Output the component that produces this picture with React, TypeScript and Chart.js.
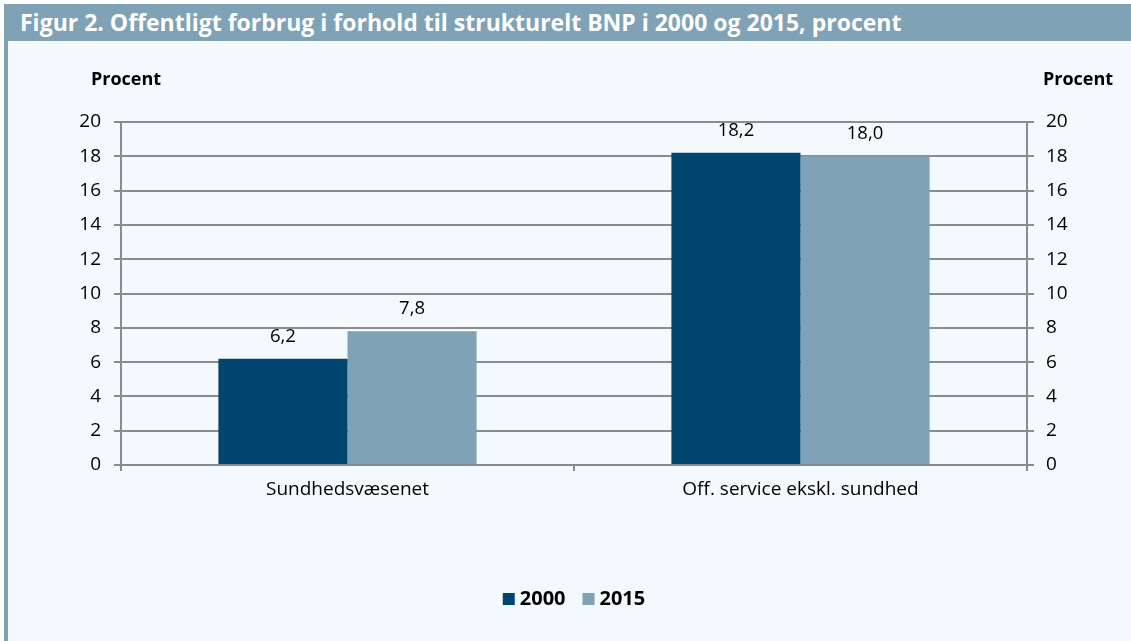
import React, { useEffect, useRef } from "react";
import { Chart, registerables } from "chart.js";

Chart.register(...registerables);

const titleText = "Figur 2. Offentligt forbrug i forhold til strukturelt BNP i 2000 og 2015, procent";
const categories = ["Sundhedsvæsenet", "Off. service ekskl. sundhed"];
const seriesLabels = ["2000", "2015"];
const values2000 = [6.2, 18.2];
const values2015 = [7.8, 18.0];
const yMin = 0;
const yMax = 20;
const yStep = 2;
const axisTitle = "Procent";

const DARK = "#00466e";
const LIGHT = "#7fa2b6";
const GRID = "#8c8c8c";
const BG = "#f4f9fd";
const FONT = "'Open Sans', 'Noto Sans', sans-serif";

const overlayPlugin = {
  id: "overlay",
  afterDatasetsDraw(chart: any) {
    const ctx = chart.ctx;
    ctx.save();
    ctx.fillStyle = "#000";
    ctx.font = `18.5px ${FONT}`;
    ctx.textAlign = "center";
    ctx.textBaseline = "alphabetic";
    chart.data.datasets.forEach((ds: any, i: number) => {
      const meta = chart.getDatasetMeta(i);
      meta.data.forEach((el: any, j: number) => {
        const v = ds.data[j];
        ctx.fillText(v.toFixed(1).replace(".", ","), el.x, el.y - 17);
      });
    });
    // axis titles
    ctx.font = `bold 18px ${FONT}`;
    const area = chart.chartArea;
    ctx.textAlign = "center";
    ctx.fillText(axisTitle, 126, 85);
    ctx.fillText(axisTitle, 1078, 85);
    // legend
    ctx.font = `bold 20px ${FONT}`;
    ctx.textAlign = "left";
    const box = 12;
    const gapBoxText = 5;
    const gapItems = 17;
    const widths = seriesLabels.map((l) => ctx.measureText(l).width);
    const total = widths.reduce((a, w) => a + box + gapBoxText + w, 0) + gapItems * (seriesLabels.length - 1);
    let x = (area.left + area.right) / 2 - total / 2;
    const yBase = 605;
    seriesLabels.forEach((l, i) => {
      ctx.fillStyle = chart.data.datasets[i].backgroundColor;
      ctx.fillRect(x, yBase - box, box, box);
      x += box + gapBoxText;
      ctx.fillStyle = "#000";
      ctx.fillText(l, x, yBase);
      x += widths[i] + gapItems;
    });
    ctx.restore();
  },
};

export default function App() {
  const canvasRef = useRef<HTMLCanvasElement | null>(null);

  useEffect(() => {
    document.body.style.margin = "0";
    const canvas = canvasRef.current;
    if (!canvas) return;
    const chart = new Chart(canvas, {
      type: "bar",
      data: {
        labels: categories,
        datasets: [
          { label: seriesLabels[0], data: values2000, backgroundColor: DARK, borderWidth: 0, yAxisID: "y" },
          { label: seriesLabels[1], data: values2015, backgroundColor: LIGHT, borderWidth: 0, yAxisID: "y" },
        ],
      },
      options: {
        responsive: false,
        animation: false,
        maintainAspectRatio: false,
        datasets: { bar: { categoryPercentage: 0.57, barPercentage: 1.0 } },
        layout: { padding: { top: 122, left: 0, right: 0, bottom: 116 } },
        plugins: { legend: { display: false }, tooltip: { enabled: false }, title: { display: false } },
        scales: {
          x: {
            type: "category",
            offset: true,
            grid: { offset: true, drawOnChartArea: false, drawTicks: true, tickLength: 6, color: GRID, lineWidth: 2 },
            border: { display: true, color: GRID, width: 2 },
            ticks: { color: "#000", font: { family: FONT, size: 19 }, padding: 7, maxRotation: 0 },
            afterFit: (s: any) => { s.height = 60; },
          },
          y: {
            position: "left",
            min: yMin,
            max: yMax,
            ticks: { stepSize: yStep, color: "#000", font: { family: FONT, size: 19 }, padding: 13 },
            grid: { color: GRID, lineWidth: 2, tickLength: 7, drawTicks: true },
            border: { display: true, color: GRID, width: 2 },
            afterFit: (s: any) => { s.width = 121; },
          },
          y2: {
            position: "right",
            min: yMin,
            max: yMax,
            ticks: { stepSize: yStep, color: "#000", font: { family: FONT, size: 19 }, padding: 12 },
            grid: { color: GRID, lineWidth: 2, tickLength: 7, drawTicks: true, drawOnChartArea: false },
            border: { display: true, color: GRID, width: 2 },
            afterFit: (s: any) => { s.width = 104; },
          },
        },
      },
      plugins: [overlayPlugin],
    } as any);
    return () => chart.destroy();
  }, []);

  return (
    <div style={{ position: "fixed", left: 0, top: 0, width: 1131, height: 641, background: "#ffffff", overflow: "hidden" }}>
      <div style={{ position: "absolute", left: 8, top: 41, width: 1123, height: 600, background: BG }} />
      <div style={{ position: "absolute", left: 4, top: 41, width: 4, height: 600, background: LIGHT }} />
      <div
        style={{
          position: "absolute", left: 4, top: 4, width: 1127, height: 37, background: LIGHT,
          color: "#fff", fontFamily: FONT, fontWeight: 700, fontSize: 23, lineHeight: "37px",
          paddingLeft: 16, boxSizing: "border-box", whiteSpace: "nowrap",
        }}
      >
        {titleText}
      </div>
      <canvas ref={canvasRef} width={1131} height={641} style={{ position: "absolute", left: 0, top: 0, width: 1131, height: 641 }} />
    </div>
  );
}
